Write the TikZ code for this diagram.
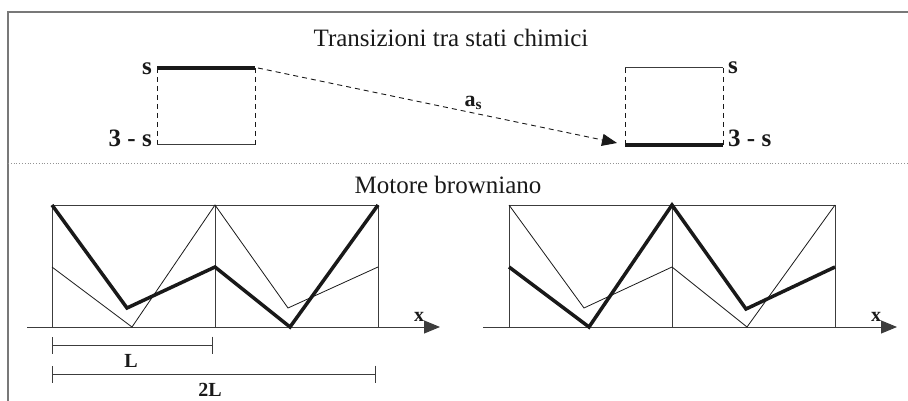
\documentclass[tikz,border=0pt]{standalone}
\usepackage{fontspec}
\setmainfont{Liberation Serif}
\usepackage{xcolor}
\usepackage{tikz}
\usetikzlibrary{arrows.meta, calc}
\definecolor{bmframe}{RGB}{120,120,120}
\definecolor{bmdark}{RGB}{25,25,25}
\definecolor{bmline}{RGB}{60,60,60}
\tikzset{
  frame/.style={draw=bmframe, line width=1.3pt},
  separator/.style={draw=bmframe!80, dotted, line width=0.8pt},
  heading/.style={font=\fontsize{25}{29}\selectfont, text=bmdark, inner sep=0pt},
  levellabel/.style={font=\bfseries\fontsize{25}{29}\selectfont, text=bmdark, inner sep=1pt},
  smalllabel/.style={font=\bfseries\fontsize{20}{23}\selectfont, text=bmdark, inner sep=1pt},
  freelevel/.style={draw=bmline, line width=1pt},
  fulllevel/.style={draw=bmdark, line width=3.5pt},
  wall/.style={draw=bmdark, dashed, dash pattern=on 5pt off 4pt, line width=0.9pt},
  jump/.style={draw=bmdark, dash pattern=on 5pt off 4pt, line width=0.9pt,
    -{Triangle[length=15pt, width=12pt]}},
  cell/.style={draw=bmline, line width=1pt},
  axisline/.style={draw=bmline, line width=1pt, -{Triangle[length=16pt, width=13pt]}},
  potthin/.style={draw=bmdark, line width=0.8pt},
  potthick/.style={draw=bmdark, line width=3.5pt, line join=miter},
  scalebar/.style={draw=bmline, line width=1pt, {Bar[width=17pt]}-{Bar[width=17pt]}}
}
\begin{document}
\begin{tikzpicture}[x=1pt, y=-1pt]
\useasboundingbox (0,0) rectangle (908,401);

% -------- frame --------
\draw[frame] (8,401) -- (8,12) -- (908,12);
\draw[separator] (8,163) -- (908,163);

% -------- CHEMICAL STATES (top) --------
\node[heading] (ttrans) at (451,38) {Transizioni tra stati chimici};

\coordinate (la) at (157,68);  \coordinate (lb) at (255,68);
\coordinate (lc) at (157,145); \coordinate (ld) at (255,145);
\coordinate (ra) at (625,68);  \coordinate (rb) at (723,68);
\coordinate (rc) at (625,145); \coordinate (rd) at (723,145);

\draw[wall] (la) -- (lc) (lb) -- (ld);
\draw[wall] (ra) -- (rc) (rb) -- (rd);
\draw[fulllevel] (la) -- (lb);
\draw[freelevel] (lc) -- (ld);
\draw[freelevel] (ra) -- (rb);
\draw[fulllevel] (rc) -- (rd);

\node[levellabel, anchor=east] (ls) at ($(la)+(-4,1)$) {s};
\node[levellabel, anchor=base east] (lr) at ($(lc)+(-4,2)$) {3 - s};
\node[levellabel, anchor=west] (rs) at ($(rb)+(4,0)$) {s};
\node[levellabel, anchor=base west] (rr) at ($(rd)+(4,2)$) {3 - s};

\coordinate (jfrom) at ($(lb)+(3,0)$);
\coordinate (jto) at ($(rc)+(-8,-2)$);
\draw[jump] (jfrom) -- (jto)
  node[pos=0.6, above=2pt, levellabel, font=\bfseries\fontsize{22}{25}\selectfont] (rate) {a\textsubscript{s}};

% -------- BROWNIAN MOTOR (bottom) --------
\node[heading] (tmotor) at (448,185) {Motore browniano};

% left panel
\draw[cell] (52,205) rectangle (378,327);
\draw[cell] (215,205) -- (215,327);
\draw[axisline] (27,327) -- (440,327);
\node[smalllabel] (xa) at (419,317) {x};
\draw[potthin] (52,267) -- (132,327) -- (215,205) -- (288,308) -- (378,267);
\draw[potthick] (52,205) -- (127,308) -- (215,267) -- (290,327) -- (378,205);

% right panel
\draw[cell] (509,205) rectangle (835,327);
\draw[cell] (672,205) -- (672,327);
\draw[axisline] (483,327) -- (897,327);
\node[smalllabel] (xb) at (876,317) {x};
\draw[potthin] (509,205) -- (584,308) -- (672,267) -- (747,327) -- (835,205);
\draw[potthick] (509,267) -- (589,327) -- (672,205) -- (746,309) -- (835,267);

% length scale
\draw[scalebar] (52,345) -- (213,345);
\node[smalllabel] (lone) at (131,361) {L};
\draw[scalebar] (52,374) -- (376,374);
\node[smalllabel] (ltwo) at (210,390) {2L};

\end{tikzpicture}
\end{document}
